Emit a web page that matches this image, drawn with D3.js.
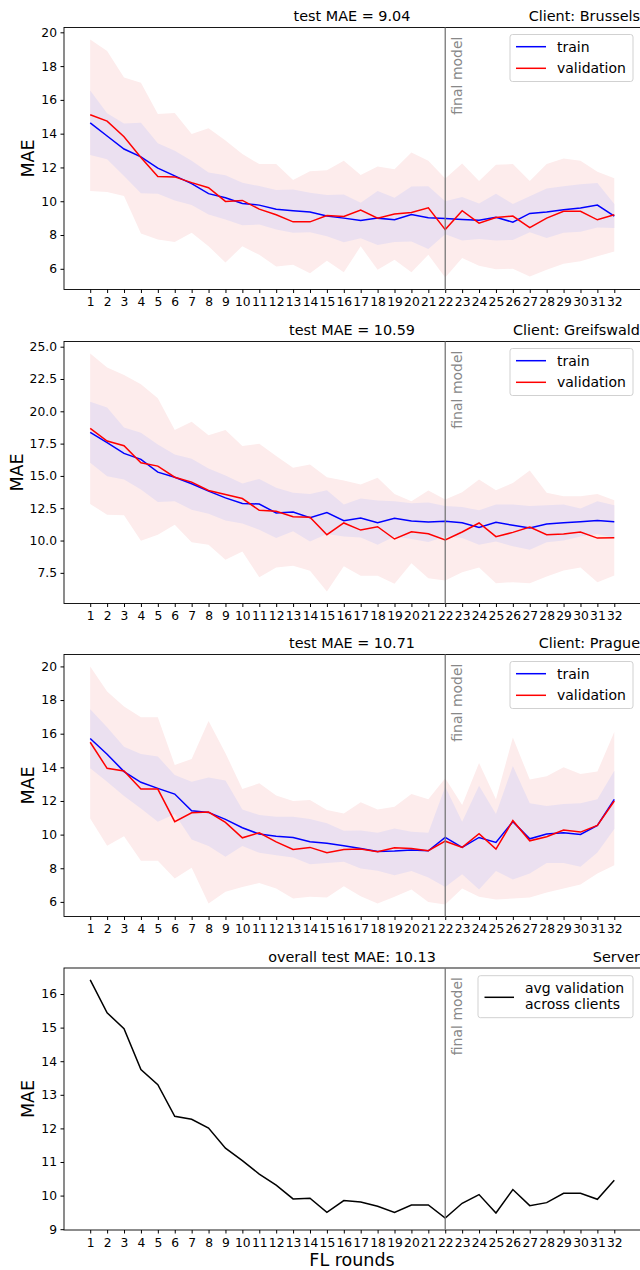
<!DOCTYPE html>
<html>
<head>
  <meta charset="utf-8">
  <title>FL rounds - MAE per client</title>
  <style>
    body { margin: 0; background: #fff; }
    svg { display: block; font-family: "DejaVu Sans", sans-serif; }
  </style>
</head>
<body>

<svg width="640" height="1270"></svg>

<script src="https://d3js.org/d3.v7.min.js"></script>
<script>

  const rounds = [1,2,3,4,5,6,7,8,9,10,11,12,13,14,15,16,17,18,19,20,21,22,23,24,25,26,27,28,29,30,31,32];
  const finalRound = 22;

  // Brussels
  const bruTrain   = [14.64,13.86,13.09,12.63,11.96,11.5,11.04,10.45,10.21,9.87,9.77,9.52,9.43,9.36,9.12,9.0,8.86,9.0,8.9,9.22,9.02,8.98,8.92,8.88,9.05,8.76,9.28,9.36,9.5,9.6,9.77,9.12];
  const bruTrainHi = [16.56,15.21,14.6,14.64,13.43,12.99,12.39,11.7,11.54,11.1,10.9,10.67,10.7,10.5,10.37,10.4,9.91,10.6,10.2,10.87,10.89,10.0,10.25,9.87,10.45,9.83,10.3,10.75,10.88,11.0,11.08,9.83];
  const bruTrainLo = [12.73,12.49,11.5,10.47,10.45,10.05,9.77,9.22,8.92,8.58,8.62,8.32,8.13,8.17,7.93,7.57,7.81,7.41,7.58,7.61,7.17,8.05,7.68,7.76,7.67,7.71,8.17,7.83,8.13,8.2,8.44,8.42];
  const bruVal     = [15.12,14.74,13.82,12.59,11.46,11.44,11.1,10.8,9.99,10.05,9.53,9.2,8.78,8.78,9.16,9.1,9.48,9.0,9.24,9.34,9.61,8.32,9.44,8.7,9.04,9.12,8.44,9.0,9.4,9.4,8.9,9.2];
  const bruValHi   = [19.58,18.9,17.32,17.02,15.17,15.23,13.98,14.32,13.59,12.79,12.2,12.2,11.26,11.78,11.84,12.39,11.56,12.06,11.9,12.89,12.39,11.35,12.23,11.2,12.16,12.2,11.2,12.2,12.53,12.39,11.75,11.36];
  const bruValLo   = [10.61,10.55,10.31,8.09,7.73,7.59,8.13,7.33,6.38,7.33,6.83,6.14,6.24,5.74,6.48,5.8,7.33,5.94,6.54,5.8,6.83,5.48,6.64,6.18,5.98,6.0,5.54,5.94,6.3,6.44,6.74,7.03];

  // Greifswald
  const greTrain   = [18.37,17.57,16.74,16.28,15.29,14.9,14.39,13.82,13.3,12.86,12.83,12.13,12.21,11.77,12.16,11.54,11.75,11.38,11.72,11.51,11.44,11.49,11.38,11.02,11.41,11.18,10.97,11.28,11.38,11.46,11.56,11.46];
  const greTrainHi = [20.73,20.29,18.74,18.35,17.44,16.66,16.33,15.58,15.03,14.41,14.77,14.08,13.69,13.61,13.89,12.78,13.25,13.09,13.04,12.89,12.94,12.68,12.6,12.34,12.78,12.78,12.68,12.73,12.78,12.47,13.04,12.73];
  const greTrainLo = [16.02,14.98,14.72,13.95,12.99,13.04,12.39,12.08,11.56,11.31,10.84,10.19,10.71,9.93,10.5,10.32,10.24,9.67,10.32,10.12,9.88,10.32,10.19,9.67,9.93,9.55,9.29,9.86,10.01,10.32,10.5,10.19];
  const greVal     = [18.68,17.7,17.34,16.02,15.76,14.9,14.52,13.87,13.56,13.25,12.34,12.26,11.85,11.8,10.45,11.36,10.81,11.07,10.12,10.68,10.53,10.04,10.66,11.36,10.3,10.63,11.05,10.45,10.5,10.66,10.19,10.22];
  const greValHi   = [24.48,23.39,22.8,22.1,21.01,18.55,19.2,18.14,18.55,17.31,17.49,16.54,15.63,15.89,14.9,14.65,14.33,14.85,13.61,13.04,13.87,13.17,13.74,14.72,13.89,14.46,15.42,13.69,13.43,13.43,13.61,13.12];
  const greValLo   = [12.83,12.0,11.95,9.99,10.45,11.23,9.86,9.67,8.51,9.16,7.16,7.91,8.04,7.66,6.05,8.02,7.27,7.27,6.65,8.25,7.09,6.91,7.55,7.91,6.7,6.78,6.7,7.22,7.68,7.91,6.78,7.29];

  // Prague
  const praTrain   = [15.71,14.78,13.75,13.11,12.75,12.41,11.42,11.32,10.91,10.41,10.03,9.91,9.83,9.57,9.48,9.34,9.18,9.0,9.02,9.08,9.04,9.83,9.24,9.83,9.54,10.77,9.75,10.03,10.11,10.01,10.55,12.1];
  const praTrainHi = [17.46,16.39,15.23,14.8,14.64,13.55,13.15,13.39,13.21,11.5,11.16,11.06,11.06,10.93,10.67,10.23,10.25,10.11,10.37,10.17,10.11,12.85,10.77,12.91,11.22,14.08,11.86,11.7,11.82,11.86,12.1,13.8];
  const praTrainLo = [13.94,13.15,12.3,11.56,10.77,11.22,9.71,9.32,8.68,9.32,8.92,8.78,8.64,8.24,8.32,8.38,7.99,7.85,7.59,7.83,7.45,6.89,7.65,6.74,7.83,7.33,7.69,8.32,8.32,8.09,8.94,10.33];
  const praVal     = [15.49,13.94,13.78,12.71,12.71,10.77,11.3,11.34,10.73,9.81,10.11,9.57,9.12,9.24,8.92,9.12,9.14,8.98,9.22,9.18,9.04,9.61,9.24,10.05,9.14,10.83,9.63,9.87,10.27,10.15,10.55,12.0];
  const praValHi   = [20.0,18.51,17.62,16.98,16.98,14.14,14.5,16.76,14.84,12.71,13.05,12.32,12.0,12.06,11.46,11.26,11.93,11.5,11.66,12.41,12.1,13.35,11.76,14.26,12.1,15.77,13.27,13.47,14.0,13.6,13.75,16.1];
  const praValLo   = [10.96,9.34,9.91,8.44,8.44,7.39,8.03,5.9,6.6,6.89,7.13,6.8,6.2,6.3,6.26,6.93,6.34,5.9,6.3,6.74,6.0,5.84,6.8,6.3,6.14,6.2,6.26,6.56,6.8,7.03,7.69,8.18];

  // Server: avg validation across clients
  const serverVal  = [16.42,15.44,14.97,13.75,13.3,12.36,12.27,12.01,11.41,11.04,10.64,10.31,9.9,9.92,9.5,9.85,9.81,9.68,9.5,9.72,9.72,9.33,9.77,10.03,9.48,10.18,9.7,9.79,10.07,10.07,9.89,10.46];

  const clientNames = ["Brussels", "Greifswald", "Prague"];
  const testMAE = ["9.04", "10.59", "10.71"];
  const overallTestMAE = "10.13";
  const yTicks = [
    [6, 8, 10, 12, 14, 16, 18, 20],
    [7.5, 10, 12.5, 15, 17.5, 20, 22.5, 25],
    [6, 8, 10, 12, 14, 16, 18, 20],
    [9, 10, 11, 12, 13, 14, 15, 16]
  ];
  const yFormats = [d3.format("d"), d3.format(".1f"), d3.format("d"), d3.format("d")];

  const clients = [
    {train: bruTrain, trainHi: bruTrainHi, trainLo: bruTrainLo, val: bruVal, valHi: bruValHi, valLo: bruValLo},
    {train: greTrain, trainHi: greTrainHi, trainLo: greTrainLo, val: greVal, valHi: greValHi, valLo: greValLo},
    {train: praTrain, trainHi: praTrainHi, trainLo: praTrainLo, val: praVal, valHi: praValHi, valLo: praValLo}
  ];

  const svg = d3.select("svg");
  const left = 64, right = 640.5;
  const tops = [27.5, 341.5, 654.5, 968];
  const h = 262;

  // matplotlib-like 5% margins
  const xPad = (rounds[rounds.length - 1] - rounds[0]) * 0.05;
  const x = d3.scaleLinear()
    .domain([rounds[0] - xPad, rounds[rounds.length - 1] + xPad])
    .range([left, right]);

  function padded(values){
    const [lo, hi] = d3.extent(values);
    const m = (hi - lo) * 0.05;
    return [lo - m, hi + m];
  }

  function drawFrame(g, y, i, top){
    g.append("g")
      .attr("transform", `translate(0,${top + h})`)
      .call(d3.axisBottom(x).tickValues(rounds).tickSize(3.5).tickPadding(4.5))
      .call(a => a.select(".domain").remove())
      .call(a => a.selectAll("text").attr("font-size", 12.3).attr("fill", "#000").attr("font-family", "DejaVu Sans"));

    const ya = g.append("g")
      .attr("transform", `translate(${left},0)`)
      .call(d3.axisLeft(y).tickValues(yTicks[i]).tickFormat(yFormats[i]).tickSize(3.5).tickPadding(3.5))
      .call(a => a.select(".domain").remove())
      .call(a => a.selectAll("text").attr("font-size", 12.3).attr("fill", "#000").attr("font-family", "DejaVu Sans"));

    g.append("rect")
      .attr("x", left).attr("y", top)
      .attr("width", right - left).attr("height", h)
      .attr("fill", "none").attr("stroke", "#000").attr("stroke-width", 0.9);

    // MAE label placed just left of the widest tick label
    const minX = d3.min(ya.selectAll("text").nodes(), n => left + n.getBBox().x);
    g.append("text")
      .attr("transform", `translate(${minX - 7},${top + h / 2}) rotate(-90)`)
      .attr("text-anchor", "middle")
      .attr("font-size", 17.5)
      .text("MAE");

    // final model marker
    g.append("line")
      .attr("x1", x(finalRound)).attr("x2", x(finalRound))
      .attr("y1", top).attr("y2", top + h)
      .attr("stroke", "#777").attr("stroke-width", 1.3);

    g.append("text")
      .attr("transform", `translate(${x(finalRound) + 16.5},${top + 9}) rotate(-90)`)
      .attr("text-anchor", "end")
      .attr("font-size", 14)
      .attr("fill", "#888")
      .text("final model");
  }

  function drawTitles(g, top, centre, side){
    g.append("text")
      .attr("x", (left + 640) / 2).attr("y", top - 6.5)
      .attr("text-anchor", "middle").attr("font-size", 14.4)
      .text(centre);
    g.append("text")
      .attr("x", 640).attr("y", top - 6.5)
      .attr("text-anchor", "end").attr("font-size", 14.4)
      .text(side);
  }

  clients.forEach((c, i) => {
    const top = tops[i];
    const g = svg.append("g").attr("class", "client");
    const y = d3.scaleLinear()
      .domain(padded([].concat(c.train, c.trainHi, c.trainLo, c.val, c.valHi, c.valLo)))
      .range([top + h, top]);

    const area = (lo, hi) => d3.area()
      .x((d, k) => x(rounds[k]))
      .y0((d, k) => y(lo[k]))
      .y1((d, k) => y(hi[k]));
    const line = d3.line()
      .x((d, k) => x(rounds[k]))
      .y(d => y(d));

    g.append("path").datum(c.valLo)
      .attr("d", area(c.valLo, c.valHi))
      .attr("fill", "#fdecec");
    g.append("path").datum(c.trainLo)
      .attr("d", area(c.trainLo, c.trainHi))
      .attr("fill", "#ebe0f0");

    g.append("path").datum(c.train)
      .attr("d", line)
      .attr("fill", "none").attr("stroke", "#0000ff").attr("stroke-width", 1.5);
    g.append("path").datum(c.val)
      .attr("d", line)
      .attr("fill", "none").attr("stroke", "#ff0000").attr("stroke-width", 1.5);

    drawFrame(g, y, i, top);
    drawTitles(g, top, `test MAE = ${testMAE[i]}`, `Client: ${clientNames[i]}`);

    // legend
    const lg = g.append("g").attr("transform", `translate(510,${top + 7})`);
    lg.append("rect")
      .attr("width", 123).attr("height", 47).attr("rx", 2.5)
      .attr("fill", "#fff").attr("fill-opacity", 0.8)
      .attr("stroke", "#ccc").attr("stroke-width", 0.9);
    [["train", "#0000ff"], ["validation", "#ff0000"]].forEach(([label, col], k) => {
      const ly = 12.2 + k * 21.6;
      lg.append("line")
        .attr("x1", 6).attr("x2", 36).attr("y1", ly).attr("y2", ly)
        .attr("stroke", col).attr("stroke-width", 1.5);
      lg.append("text")
        .attr("x", 47).attr("y", ly + 5)
        .attr("font-size", 14)
        .text(label);
    });
  });

  // server panel
  {
    const top = tops[3];
    const g = svg.append("g").attr("class", "server");
    const y = d3.scaleLinear()
      .domain(padded(serverVal))
      .range([top + h, top]);

    g.append("path").datum(serverVal)
      .attr("d", d3.line().x((d, k) => x(rounds[k])).y(d => y(d)))
      .attr("fill", "none").attr("stroke", "#000").attr("stroke-width", 1.5);

    drawFrame(g, y, 3, top);
    drawTitles(g, top, `overall test MAE: ${overallTestMAE}`, "Server");

    g.append("text")
      .attr("x", (left + 640) / 2).attr("y", top + h + 36)
      .attr("text-anchor", "middle").attr("font-size", 17.5)
      .text("FL rounds");

    const lg = g.append("g").attr("transform", `translate(478,${top + 7.7})`);
    lg.append("rect")
      .attr("width", 155).attr("height", 42).attr("rx", 2.5)
      .attr("fill", "#fff").attr("fill-opacity", 0.8)
      .attr("stroke", "#ccc").attr("stroke-width", 0.9);
    lg.append("line")
      .attr("x1", 6.5).attr("x2", 36).attr("y1", 21.6).attr("y2", 21.6)
      .attr("stroke", "#000").attr("stroke-width", 1.5);
    lg.append("text")
      .attr("x", 47).attr("y", 17.6)
      .attr("font-size", 14)
      .text("avg validation");
    lg.append("text")
      .attr("x", 47).attr("y", 33.3)
      .attr("font-size", 14)
      .text("across clients");
  }

</script>
</body>
</html>
